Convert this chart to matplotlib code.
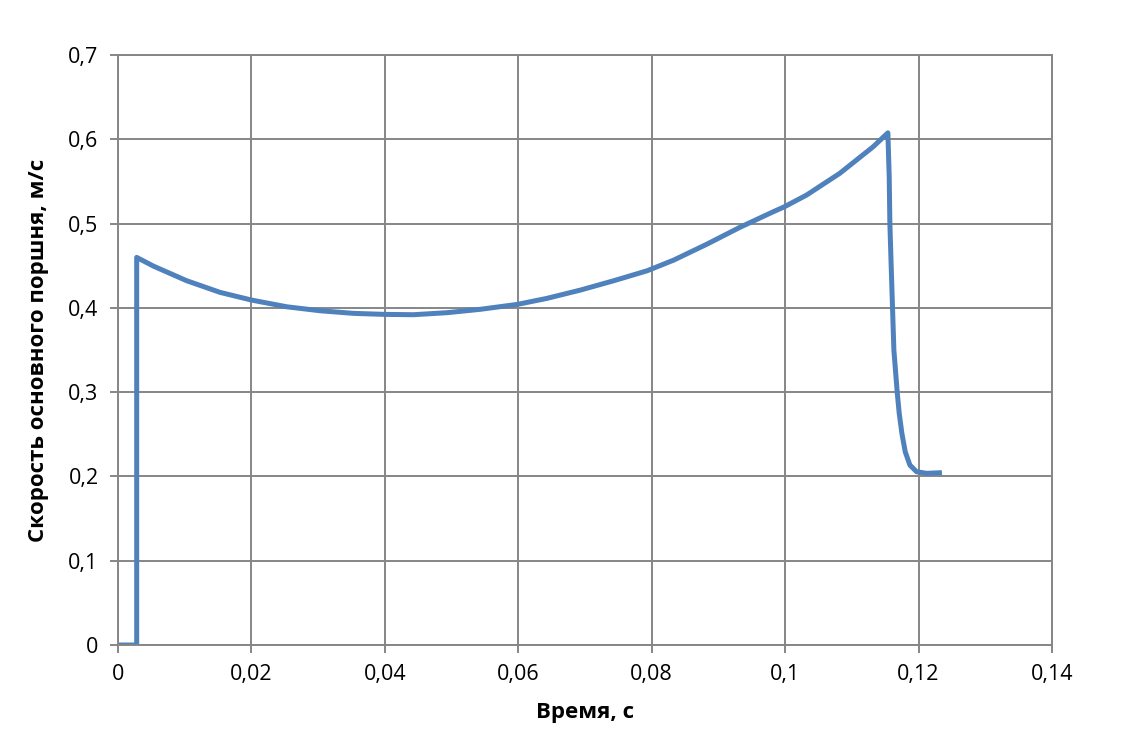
import matplotlib.pyplot as plt
from matplotlib.ticker import FuncFormatter, MultipleLocator

plt.rcParams["font.family"] = ["Liberation Sans Narrow", "Open Sans", "DejaVu Sans"]

# время, с
t = [0.0, 0.0028, 0.0028, 0.0053, 0.0103, 0.0153, 0.02, 0.0253, 0.0303, 0.0353,
     0.0399, 0.0443, 0.0493, 0.0543, 0.0599, 0.0643, 0.0693, 0.0743, 0.0793,
     0.0833, 0.0883, 0.0932, 0.0982, 0.0999, 0.1032, 0.1082, 0.1132, 0.1154,
     0.1156, 0.1157, 0.1159, 0.1161, 0.1163, 0.1168, 0.1171, 0.1175, 0.1180,
     0.1187, 0.1197, 0.1212, 0.1235]
# скорость основного поршня, м/с
v = [0.0, 0.0, 0.4599, 0.4496, 0.4322, 0.4184, 0.4093, 0.4013, 0.3966, 0.3935,
     0.3923, 0.3919, 0.3943, 0.3983, 0.4042, 0.4113, 0.4211, 0.4322, 0.444,
     0.4567, 0.4757, 0.4955, 0.514, 0.520, 0.5338, 0.5597, 0.5912, 0.6077,
     0.5555, 0.5002, 0.4488, 0.3994, 0.35, 0.2998, 0.2749, 0.2511, 0.2293,
     0.2135, 0.2056, 0.2037, 0.2045]

grey = "#868686"


def fmt(val, pos):
    s = f"{val:.2f}".rstrip("0").rstrip(".")
    return s.replace(".", ",")


fig = plt.figure(figsize=(11.25, 7.56), dpi=100)
ax = fig.add_axes([0.1049, 0.1468, 0.8302, 0.7804])
ax.plot(t, v, color="#4F81BD", linewidth=3.6, solid_joinstyle="round",
        solid_capstyle="butt")

ax.set_xlim(0, 0.14)
ax.set_ylim(0, 0.7)
ax.xaxis.set_major_locator(MultipleLocator(0.02))
ax.yaxis.set_major_locator(MultipleLocator(0.1))
ax.xaxis.set_major_formatter(FuncFormatter(fmt))
ax.yaxis.set_major_formatter(FuncFormatter(fmt))
ax.grid(True, color=grey, linewidth=1.4)
ax.set_axisbelow(True)
for side in ["left", "bottom", "top", "right"]:
    ax.spines[side].set_color(grey)
    ax.spines[side].set_linewidth(1.4)
ax.tick_params(length=6, width=1.4, color=grey, labelsize=15.5, pad=8)

ax.set_xlabel("Время, с", fontsize=16, fontweight="bold", labelpad=12)
ax.set_ylabel("Скорость основного поршня, м/с", fontsize=16, fontweight="bold", labelpad=14)

fig.savefig("out.png", dpi=100)
